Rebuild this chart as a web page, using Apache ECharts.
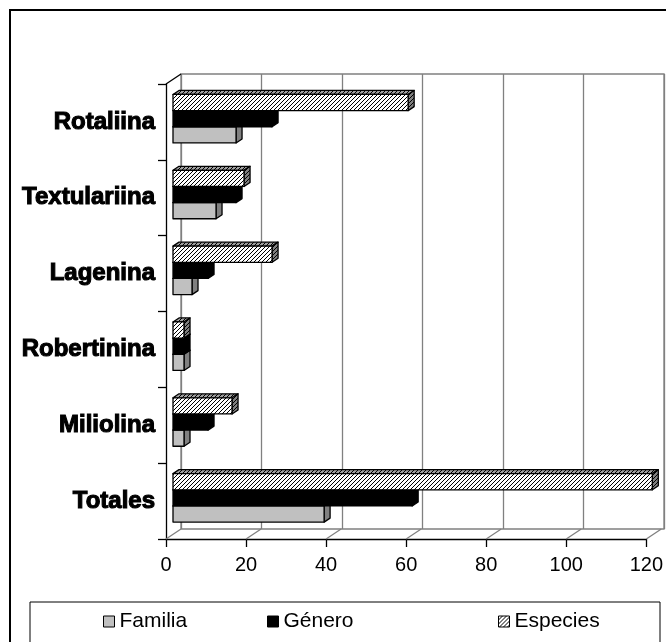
<!DOCTYPE html>
<html>
<head>
<meta charset="utf-8">
<script src="https://cdn.jsdelivr.net/npm/echarts@6/dist/echarts.min.js"></script>
<style>
    html, body { margin: 0; padding: 0; background: #fff; }
    #chart { width: 666px; height: 642px; }
</style>
</head>
<body>
<div id="chart"></div>
<script>
// 数据 (从下到上)
const categories = ['Totales', 'Miliolina', 'Robertinina', 'Lagenina', 'Textulariina', 'Rotaliina'];
const familia    = [38, 3, 3, 5, 11, 16];
const genero     = [60, 9, 3, 9, 16, 25];
const especies   = [120, 15, 3, 25, 18, 59];
const xTicks     = [0, 20, 40, 60, 80, 100, 120];
const seriesNames = ['Familia', 'Género', 'Especies'];

const DX = 15, DY = -10;        // 3D 深度偏移
const BX = 6,  BY = -4;         // 柱子厚度

// 斜线填充
function hatch(bg, fg) {
    let c = document.createElement('canvas');
    c.width = 4; c.height = 4;
    let ctx = c.getContext('2d');
    ctx.fillStyle = bg;
    ctx.fillRect(0, 0, 4, 4);
    ctx.strokeStyle = fg;
    ctx.lineWidth = 1;
    ctx.beginPath();
    ctx.moveTo(-1, 5); ctx.lineTo(5, -1);
    ctx.moveTo(-1, 1); ctx.lineTo(1, -1);
    ctx.moveTo(3, 5); ctx.lineTo(5, 3);
    ctx.stroke();
    return { image: c, repeat: 'repeat' };
}

const faces = [
    { front: '#c0c0c0', top: '#a0a0a0', side: '#808080' },
    { front: '#000000', top: '#000000', side: '#000000' },
    { front: hatch('#ffffff', '#000000'), top: hatch('#a0a0a0', '#000000'), side: hatch('#808080', '#000000') }
];

// 3D 柱子
function barRender(s) {
    return function (params, api) {
        let v = api.value(0), c = api.value(1);
        let p0 = api.coord([0, c]);
        let p1 = api.coord([v, c]);
        let band = api.size([0, 1])[1];
        let h = band * 0.213;
        let xl = p0[0] + 7, xr = p1[0] + 6;
        let yt = p0[1] - band * 0.362 + (2 - s) * h;
        let yb = yt + h;
        let f = faces[s];
        let stroke = { stroke: '#000', lineWidth: 1.3, lineJoin: 'round' };
        return {
            type: 'group',
            children: [
                { type: 'polygon', shape: { points: [[xl, yt], [xr, yt], [xr + BX, yt + BY], [xl + BX, yt + BY]] },
                  style: Object.assign({ fill: f.top }, stroke) },
                { type: 'polygon', shape: { points: [[xr, yt], [xr + BX, yt + BY], [xr + BX, yb + BY], [xr, yb]] },
                  style: Object.assign({ fill: f.side }, stroke) },
                { type: 'rect', shape: { x: xl, y: yt, width: xr - xl, height: h },
                  style: Object.assign({ fill: f.front }, stroke) }
            ]
        };
    };
}

// 地板斜线
function floorRender(params, api) {
    let v = api.value(0);
    let p = api.coord([v, 0]);
    let band = api.size([0, 1])[1];
    let y = p[1] + band / 2;
    return {
        type: 'line',
        shape: { x1: p[0], y1: y, x2: p[0] + DX, y2: y + DY },
        style: { stroke: '#808080', lineWidth: 1.3 }
    };
}
function wallRender(params, api) {
    let p = api.coord([0, categories.length - 1]);
    let band = api.size([0, 1])[1];
    let y = p[1] - band / 2;
    return {
        type: 'line',
        shape: { x1: p[0], y1: y, x2: p[0] + DX, y2: y + DY },
        style: { stroke: '#000', lineWidth: 1.3 }
    };
}

const allValues = [familia, genero, especies];
let series = allValues.map((arr, s) => ({
    name: seriesNames[s],
    type: 'custom',
    xAxisIndex: 0,
    yAxisIndex: 0,
    itemStyle: { color: faces[s].front, borderColor: '#000', borderWidth: 1 },
    renderItem: barRender(s),
    data: arr.map((v, i) => [v, i]),
    z: 3
}));
series.push({
    type: 'custom', xAxisIndex: 0, yAxisIndex: 0, silent: true, z: 1,
    renderItem: floorRender,
    data: xTicks.map(v => [v, 0])
});
series.push({
    type: 'custom', xAxisIndex: 0, yAxisIndex: 0, silent: true, z: 1,
    renderItem: wallRender,
    data: [[0, 0]]
});

let legendBase = {
    orient: 'horizontal',
    top: 611,
    padding: 0,
    icon: 'rect',
    itemWidth: 11,
    itemHeight: 11,
    itemGap: 5,
    itemStyle: { borderColor: '#000', borderWidth: 1 },
    textStyle: { fontFamily: 'Liberation Sans, Arial', fontSize: 21, color: '#000' }
};

let myChart = echarts.init(document.getElementById('chart'));
let option = {
    animation: false,
    backgroundColor: '#fff',
    grid: [
        // 前面
        { left: 166, right: 17, top: 84, bottom: 103, containLabel: false },
        // 后墙
        { left: 181, right: 2, top: 74, bottom: 113, show: true, borderColor: '#808080', borderWidth: 1.3, z: 0 }
    ],
    xAxis: [
        {
            gridIndex: 0, type: 'value', min: 0, max: 120, interval: 20,
            axisLine: { show: true, lineStyle: { color: '#000', width: 1.3 } },
            axisTick: { show: true, length: 8, lineStyle: { color: '#000', width: 1.3 } },
            axisLabel: { fontFamily: 'Liberation Sans, Arial', fontSize: 20, color: '#000', margin: 16 },
            splitLine: { show: false }
        },
        {
            gridIndex: 1, type: 'value', min: 0, max: 120, interval: 20,
            axisLine: { show: false }, axisTick: { show: false }, axisLabel: { show: false },
            splitLine: { show: true, lineStyle: { color: '#808080', width: 1.3 } }
        }
    ],
    yAxis: [
        {
            gridIndex: 0, type: 'category', data: categories,
            axisLine: { show: true, lineStyle: { color: '#000', width: 1.3 } },
            axisTick: { show: true, length: 8, lineStyle: { color: '#000', width: 1.3 } },
            axisLabel: { fontFamily: 'Liberation Sans, Arial', fontWeight: 'bold', fontSize: 24, color: '#000', margin: 11,
                         textBorderColor: '#000', textBorderWidth: 1.1 }
        },
        {
            gridIndex: 1, type: 'category', data: categories, show: false
        }
    ],
    legend: [
        Object.assign({ data: ['Familia'], left: 103 }, legendBase),
        Object.assign({ data: ['Género'], left: 267 }, legendBase),
        Object.assign({ data: ['Especies'], left: 498 }, legendBase)
    ],
    graphic: [
        // 外框
        { type: 'rect', shape: { x: 10, y: 10, width: 700, height: 700 }, style: { fill: 'none', stroke: '#000', lineWidth: 2 }, z: 10 },
        // 图例框
        { type: 'rect', shape: { x: 30, y: 602, width: 630, height: 60 }, style: { fill: 'none', stroke: '#000', lineWidth: 1 }, z: 10 }
    ],
    series: series
};
myChart.setOption(option);
</script>
</body>
</html>
